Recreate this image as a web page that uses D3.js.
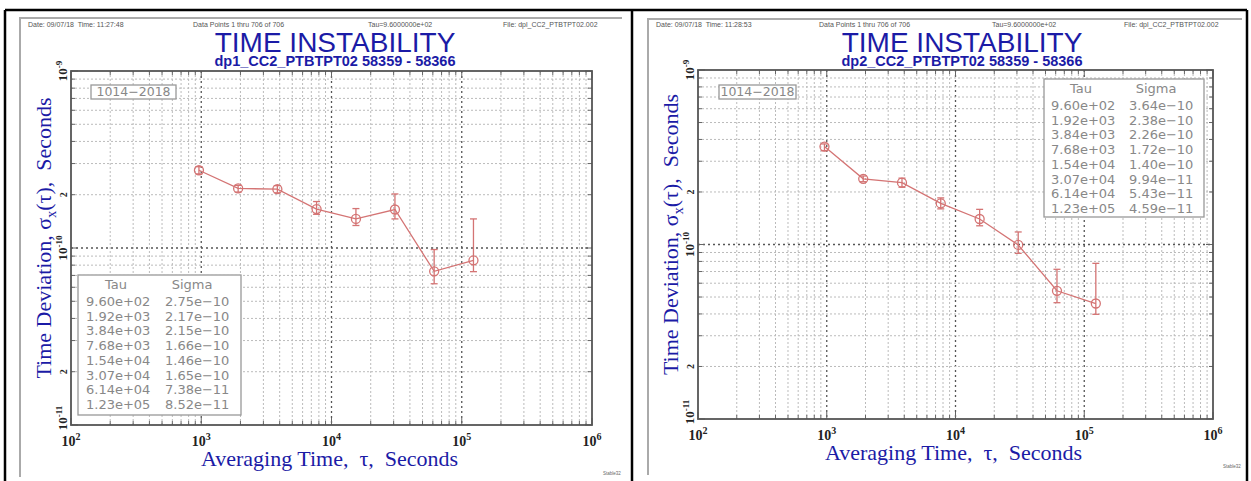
<!DOCTYPE html>
<html>
<head>
<meta charset="utf-8">
<script src="https://cdn.jsdelivr.net/npm/d3@7"></script>
<style>
  body { margin: 0; background: #fff; }
  svg text { white-space: pre; }
</style>
</head>
<body>
<svg id="chart" width="1251" height="481"></svg>
<script>
// DATA

const tauValues = [960, 1920, 3840, 7680, 15400, 30700, 61400, 123000];
const tauLabels = ["9.60e+02", "1.92e+03", "3.84e+03", "7.68e+03", "1.54e+04", "3.07e+04", "6.14e+04", "1.23e+05"];

const sigma1 = [2.75e-10, 2.17e-10, 2.15e-10, 1.66e-10, 1.46e-10, 1.65e-10, 7.38e-11, 8.52e-11];
const sigmaLabels1 = ["2.75e-10", "2.17e-10", "2.15e-10", "1.66e-10", "1.46e-10", "1.65e-10", "7.38e-11", "8.52e-11"];
const errLo1 = [2.62e-10, 2.07e-10, 2.05e-10, 1.55e-10, 1.34e-10, 1.46e-10, 6.28e-11, 7.35e-11];
const errHi1 = [2.88e-10, 2.26e-10, 2.25e-10, 1.83e-10, 1.67e-10, 2.02e-10, 0.98e-10, 1.46e-10];

const sigma2 = [3.64e-10, 2.38e-10, 2.26e-10, 1.72e-10, 1.40e-10, 9.94e-11, 5.43e-11, 4.59e-11];
const sigmaLabels2 = ["3.64e-10", "2.38e-10", "2.26e-10", "1.72e-10", "1.40e-10", "9.94e-11", "5.43e-11", "4.59e-11"];
const errLo2 = [3.45e-10, 2.29e-10, 2.13e-10, 1.60e-10, 1.28e-10, 8.9e-11, 4.64e-11, 3.98e-11];
const errHi2 = [3.77e-10, 2.47e-10, 2.40e-10, 1.85e-10, 1.59e-10, 1.18e-10, 7.21e-11, 7.8e-11];

const xTickValues = [1e2, 1e3, 1e4, 1e5, 1e6];
const xTickExps = ["2", "3", "4", "5", "6"];
const yTickValues = [1e-9, 2e-10, 1e-10, 2e-11, 1e-11];
const yTickBases = ["10", "2", "10", "2", "10"];
const yTickExps = ["-9", "", "-10", "", "-11"];

const xDomain = [1e2, 1e6];
const yDomain = [1e-11, 1e-9];

const serif = "'Liberation Serif', 'Times New Roman', serif";
const sans = "'Liberation Sans', Arial, sans-serif";
const blue = "#1b1ba6";
const red = "#d47474";

const svg = d3.select("#chart");

// outer frame
svg.append("g").selectAll("line")
    .data([[5, 10, 1247, 10], [5, 10, 5, 481], [632, 10, 632, 481], [1247, 10, 1247, 481]])
    .enter().append("line")
    .attr("x1", d => d[0]).attr("y1", d => d[1]).attr("x2", d => d[2]).attr("y2", d => d[3])
    .attr("stroke", "#000").attr("stroke-width", 2.5);

function drawPanel(p) {
    const g = svg.append("g");

    // grey image edge
    g.append("path")
        .attr("d", `M${p.edge[0]},${p.edge[3]}V${p.edge[1]}H${p.edge[2]}`)
        .attr("fill", "none").attr("stroke", "#aaa").attr("stroke-width", 2);

    // header line
    const hdr = [p.date, "Data Points 1 thru 706 of 706", "Tau=9.6000000e+02", "File: dpl_CC2_PTBTPT02.002"];
    g.selectAll(".hdr").data(hdr).enter().append("text")
        .attr("x", (d, i) => p.hdrX[i]).attr("y", 27)
        .attr("font-family", sans).attr("font-size", 7).attr("fill", "#555")
        .text(d => d);

    // title
    g.append("text").attr("x", p.titleX).attr("y", 52).attr("text-anchor", "middle")
        .attr("font-family", sans).attr("font-size", 28).attr("fill", blue)
        .text("TIME INSTABILITY");
    g.append("text").attr("x", p.titleX).attr("y", 65.5).attr("text-anchor", "middle")
        .attr("font-family", sans).attr("font-size", 14.5).attr("font-weight", "bold").attr("fill", blue)
        .text(p.subtitle);

    const x = d3.scaleLog().domain(xDomain).range([p.left, p.right]);
    const y = d3.scaleLog().domain(yDomain).range([p.bottom, p.top]);

    const xTicks = x.ticks();
    const yTicks = y.ticks();
    const isMajor = v => Math.abs(Math.log10(v) - Math.round(Math.log10(v))) < 1e-6;

    // grid
    const grid = g.append("g");
    grid.selectAll(".gx").data(xTicks.filter(v => v > xDomain[0] && v < xDomain[1])).enter().append("line")
        .attr("x1", d => x(d)).attr("x2", d => x(d)).attr("y1", p.top).attr("y2", p.bottom)
        .attr("stroke", d => isMajor(d) ? "#555" : "#bbb")
        .attr("stroke-width", d => isMajor(d) ? 1.3 : 1)
        .attr("stroke-dasharray", d => isMajor(d) ? "2,3" : "2,2");
    grid.selectAll(".gy").data(yTicks.filter(v => v > yDomain[0] * 1.0001 && v < yDomain[1] * 0.9999)).enter().append("line")
        .attr("y1", d => y(d)).attr("y2", d => y(d)).attr("x1", p.left).attr("x2", p.right)
        .attr("stroke", d => isMajor(d) ? "#555" : "#bbb")
        .attr("stroke-width", d => isMajor(d) ? 1.3 : 1)
        .attr("stroke-dasharray", d => isMajor(d) ? "2,3" : "2,2");

    // inner tick marks on all sides
    const tk = g.append("g").attr("stroke", "#666").attr("stroke-width", 1);
    xTicks.forEach(v => {
        const len = isMajor(v) ? 7 : 4;
        tk.append("line").attr("x1", x(v)).attr("x2", x(v)).attr("y1", p.bottom).attr("y2", p.bottom - len);
        tk.append("line").attr("x1", x(v)).attr("x2", x(v)).attr("y1", p.top).attr("y2", p.top + len);
    });
    yTicks.forEach(v => {
        const len = isMajor(v) ? 7 : 4;
        tk.append("line").attr("y1", y(v)).attr("y2", y(v)).attr("x1", p.left).attr("x2", p.left + len);
        tk.append("line").attr("y1", y(v)).attr("y2", y(v)).attr("x1", p.right).attr("x2", p.right - len);
    });

    // frame
    g.append("rect").attr("x", p.left).attr("y", p.top)
        .attr("width", p.right - p.left).attr("height", p.bottom - p.top)
        .attr("fill", "none").attr("stroke", "#555").attr("stroke-width", 1.8);

    // x tick labels
    xTickValues.forEach((v, i) => {
        const t = g.append("text").attr("x", x(v)).attr("y", p.bottom + 21).attr("text-anchor", "middle")
            .attr("font-family", serif).attr("font-weight", "bold").attr("font-size", 14).attr("fill", "#222");
        t.append("tspan").text("10");
        t.append("tspan").attr("dy", -6).attr("font-size", 10).text(xTickExps[i]);
    });

    // y tick labels (rotated)
    yTickValues.forEach((v, i) => {
        let yy = y(v);
        if (i === yTickValues.length - 1) yy -= 7;
        const t = g.append("text").attr("transform", `translate(${p.left - 4},${yy}) rotate(-90)`)
            .attr("text-anchor", "middle")
            .attr("font-family", serif).attr("font-weight", "bold").attr("font-size", yTickExps[i] ? 13 : 10).attr("fill", "#222");
        t.append("tspan").text(yTickBases[i]);
        if (yTickExps[i]) t.append("tspan").attr("dy", -5).attr("font-size", 9).text(yTickExps[i]);
    });

    // axis titles
    g.append("text").attr("x", (p.left + p.right) / 2 - 2).attr("y", p.xLabelY).attr("text-anchor", "middle")
        .attr("font-family", serif).attr("font-size", 22).attr("fill", blue)
        .text("Averaging Time,  \u03C4,  Seconds");
    const yl = g.append("text").attr("transform", `translate(${p.yLabelX},${(p.top + p.bottom) / 2 - 10}) rotate(-90)`)
        .attr("text-anchor", "middle")
        .attr("font-family", serif).attr("font-size", 22).attr("fill", blue);
    yl.append("tspan").text("Time Deviation, \u03C3");
    yl.append("tspan").attr("dy", 5).attr("font-size", 14).text("x");
    yl.append("tspan").attr("dy", -5).text("(\u03C4),  Seconds");

    // legend box "1014-2018"
    g.append("rect").attr("x", p.legBox[0]).attr("y", p.legBox[1])
        .attr("width", p.legBox[2] - p.legBox[0]).attr("height", p.legBox[3] - p.legBox[1])
        .attr("fill", "#fff").attr("stroke", "#999").attr("stroke-width", 1.3);
    g.append("text").attr("x", (p.legBox[0] + p.legBox[2]) / 2).attr("y", p.legBox[3] - 3)
        .attr("text-anchor", "middle").attr("font-family", "'DejaVu Sans', sans-serif")
        .attr("font-size", 12.5).attr("fill", "#888").text("1014\u22122018");

    // data: line, error bars, markers
    const pts = tauValues.map((t, i) => ({ t: t, s: p.sigma[i], lo: p.lo[i], hi: p.hi[i] }));
    const plot = g.append("g");
    plot.append("path").datum(pts)
        .attr("d", d3.line().x(d => x(d.t)).y(d => y(d.s)))
        .attr("fill", "none").attr("stroke", red).attr("stroke-width", 1.3);
    const eb = plot.selectAll(".eb").data(pts).enter().append("g").attr("stroke", red).attr("stroke-width", 1.3);
    eb.append("line").attr("x1", d => x(d.t)).attr("x2", d => x(d.t)).attr("y1", d => y(d.lo)).attr("y2", d => y(d.hi));
    eb.append("line").attr("x1", d => x(d.t) - 3.5).attr("x2", d => x(d.t) + 3.5).attr("y1", d => y(d.lo)).attr("y2", d => y(d.lo));
    eb.append("line").attr("x1", d => x(d.t) - 3.5).attr("x2", d => x(d.t) + 3.5).attr("y1", d => y(d.hi)).attr("y2", d => y(d.hi));
    plot.selectAll("circle").data(pts).enter().append("circle")
        .attr("cx", d => x(d.t)).attr("cy", d => y(d.s)).attr("r", 4.5)
        .attr("fill", "none").attr("stroke", red).attr("stroke-width", 1.3);

    // Tau / Sigma table
    const tb = p.table;
    g.append("rect").attr("x", tb.x0).attr("y", tb.y0).attr("width", tb.x1 - tb.x0).attr("height", tb.y1 - tb.y0)
        .attr("fill", "#fff").attr("stroke", "#999").attr("stroke-width", 1.3);
    const tf = "'DejaVu Sans', sans-serif";
    g.append("text").attr("x", tb.tauX + 30).attr("y", tb.headY).attr("text-anchor", "middle")
        .attr("font-family", tf).attr("font-size", 13).attr("fill", "#888").text("Tau");
    g.append("text").attr("x", tb.sigX + 27).attr("y", tb.headY).attr("text-anchor", "middle")
        .attr("font-family", tf).attr("font-size", 13).attr("fill", "#888").text("Sigma");
    tauLabels.forEach((lab, i) => {
        g.append("text").attr("x", tb.tauX).attr("y", tb.rowY + i * 14.7)
            .attr("font-family", tf).attr("font-size", 13).attr("fill", "#888").text(lab);
        g.append("text").attr("x", tb.sigX).attr("y", tb.rowY + i * 14.7)
            .attr("font-family", tf).attr("font-size", 13).attr("fill", "#888").text(p.sigmaLabels[i].replace("-", "\u2212"));
    });

    g.append("text").attr("x", p.stableX).attr("y", p.stableY).attr("text-anchor", "middle")
        .attr("font-family", sans).attr("font-size", 4.5).attr("fill", "#666").text("Stable32");
}

drawPanel({
    edge: [20, 18, 622, 477],
    date: "Date: 09/07/18  Time: 11:27:48",
    hdrX: [28, 193, 368, 503],
    titleX: 335,
    subtitle: "dp1_CC2_PTBTPT02 58359 - 58366",
    left: 71, right: 592, top: 71, bottom: 425,
    xLabelY: 466, yLabelX: 51,
    legBox: [91, 85, 176, 99],
    sigma: sigma1, sigmaLabels: sigmaLabels1, lo: errLo1, hi: errHi1,
    table: { x0: 78, y0: 275, x1: 241, y1: 415, tauX: 86, sigX: 165, headY: 289, rowY: 306 },
    stableX: 612, stableY: 475
});

drawPanel({
    edge: [648, 19, 1242, 475],
    date: "Date: 09/07/18  Time: 11:28:53",
    hdrX: [656, 819, 992, 1124],
    titleX: 962,
    subtitle: "dp2_CC2_PTBTPT02 58359 - 58366",
    left: 698, right: 1213, top: 70, bottom: 419,
    xLabelY: 460, yLabelX: 678,
    legBox: [719, 85, 796, 99],
    sigma: sigma2, sigmaLabels: sigmaLabels2, lo: errLo2, hi: errHi2,
    table: { x0: 1044, y0: 79, x1: 1204, y1: 217, tauX: 1051, sigX: 1129, headY: 93, rowY: 110 },
    stableX: 1232, stableY: 468
});
</script>
</body>
</html>
